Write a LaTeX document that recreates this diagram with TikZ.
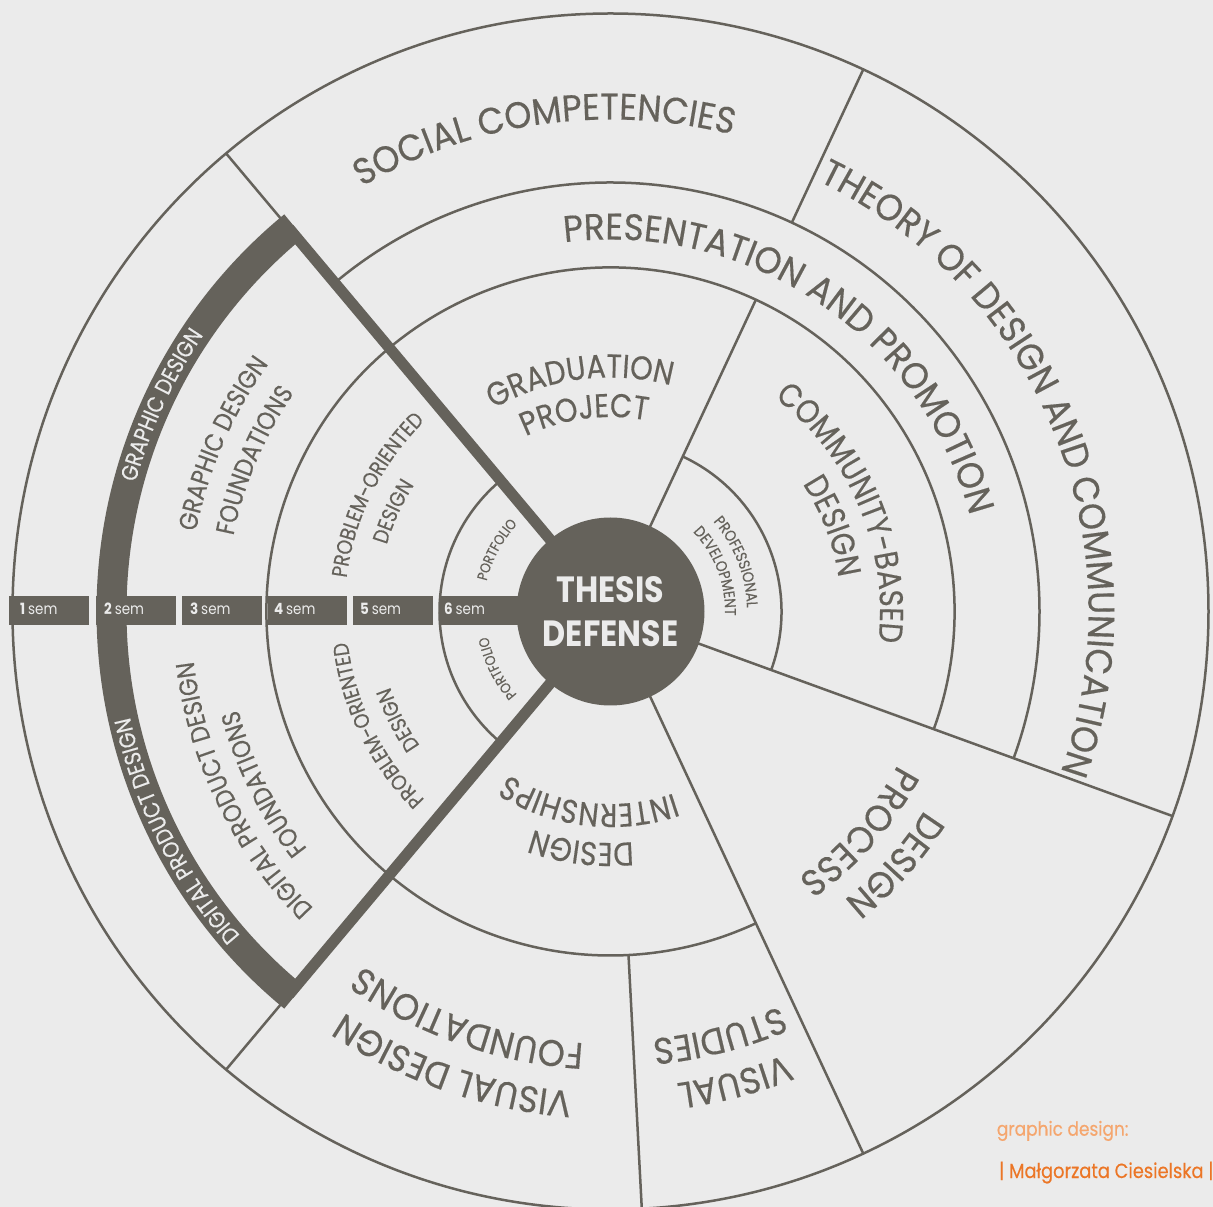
\documentclass[tikz,border=0pt]{standalone}
\usepackage{fontspec}
\usetikzlibrary{decorations.text}
\newfontfamily\labfont[FakeStretch=0.87,FakeBold=0.4]{Poppins}
\newfontfamily\bigfont[FakeStretch=0.93,FakeBold=0.4]{Poppins}
\newfontfamily\semfont[FakeStretch=0.87]{Poppins}
\definecolor{bg}{RGB}{235,235,235}
\definecolor{ink}{RGB}{101,98,91}
\definecolor{orl}{RGB}{245,166,110}
\definecolor{ord}{RGB}{235,118,38}
\newcommand\fBig{\bigfont\fontsize{37}{40}\selectfont}
\newcommand\fMed{\labfont\fontsize{33}{36}\selectfont}
\newcommand\fGD{\labfont\fontsize{26}{30}\selectfont}
\newcommand\fPO{\labfont\fontsize{21.5}{24}\selectfont}
\newcommand\fBand{\labfont\fontsize{23}{26}\selectfont}
\newcommand\fPD{\labfont\fontsize{15.5}{18}\selectfont}
\newcommand\fPF{\labfont\fontsize{14.3}{16}\selectfont}
\newcommand\arctext[5][ink]{%
  \pgfmathsetmacro\aS{#2+85}\pgfmathsetmacro\aE{#2-85}%
  \path[decorate,decoration={text along path,text align=center,text color=#1,text={|#4|#5}}]
    (\aS:#3pt) arc[start angle=\aS,end angle=\aE,radius=#3pt];}
\tikzset{
  ring/.style={draw=ink,line width=2.5pt},
  heavy/.style={draw=ink,line width=11pt},
  sembar/.style={fill=ink,inner sep=0pt,minimum height=28.5pt,anchor=west},
  semlab/.style={text=bg,inner sep=0pt,anchor=base west,font=\semfont\fontsize{15.5}{16}\selectfont},
}
\begin{document}
\begin{tikzpicture}[x=1pt,y=1pt]
\useasboundingbox[fill=bg] (-610.5,-595.5) rectangle (602.5,611.5);
% rings
\draw[ring] (0,0) circle[radius=598pt];
\draw[ring] (130:429pt) arc[start angle=130,end angle=-20,radius=429pt];
\draw[ring] (-20:344pt) arc[start angle=-20,end angle=295,radius=344pt];
\draw[ring] (130:171pt) arc[start angle=130,end angle=230,radius=171pt];
\draw[ring] (65:171pt) arc[start angle=65,end angle=-20,radius=171pt];
% radial lines
\draw[ring] (130:500pt) -- (130:598pt);
\draw[ring] (230:500pt) -- (230:598pt);
\draw[ring] (65:90pt) -- (65:344pt);
\draw[ring] (65:429pt) -- (65:598pt);
\draw[ring] (-20:90pt) -- (-20:598pt);
\draw[ring] (-65:90pt) -- (-65:598pt);
\draw[ring] (-87:344pt) -- (-87:598pt);
\draw[heavy] (130:90pt) -- (130:500pt);
\draw[heavy] (230:90pt) -- (230:500pt);
\fill[ink] (129.4:514pt) arc[start angle=129.4,end angle=230.6,radius=514pt]
  -- (230.6:484pt) arc[start angle=230.6,end angle=129.4,radius=484pt] -- cycle;
% semester bars
\node[sembar,minimum width=80pt] (b1) at (-601.5,0.75) {};
\node[sembar,minimum width=80pt] (b2) at (-514.5,0.75) {};
\node[sembar,minimum width=80pt] (b3) at (-428.5,0.75) {};
\node[sembar,minimum width=79pt] (b4) at (-342.5,0.75) {};
\node[sembar,minimum width=80pt] (b5) at (-257.5,0.75) {};
\node[sembar,minimum width=169.5pt] (b6) at (-169.5,0.75) {};
\node[semlab] (l1) at (-590.5,-3.5) {\bfseries 1 \mdseries sem};
\node[semlab] (l2) at (-506.5,-3.5) {\bfseries 2 \mdseries sem};
\node[semlab] (l3) at (-420.5,-3.5) {\bfseries 3 \mdseries sem};
\node[semlab] (l4) at (-336.5,-3.5) {\bfseries 4 \mdseries sem};
\node[semlab] (l5) at (-250.5,-3.5) {\bfseries 5 \mdseries sem};
\node[semlab] (l6) at (-166.5,-3.5) {\bfseries 6 \mdseries sem};
% centre
\node[circle,fill=ink,inner sep=0pt,minimum size=188pt,text=bg,align=center,
  font=\semfont\bfseries\fontsize{36.5}{44}\selectfont] (thesis) at (0,0) {THESIS\\DEFENSE};
% curved labels
\arctext{98}{492}{\fBig}{SOCIAL COMPETENCIES}
\arctext{56}{372}{\fBig}{PRESENTATION AND PROMOTION}
\arctext{22.3}{478}{\fBig}{THEORY OF DESIGN AND COMMUNICATION}
\arctext{97.5}{234}{\fMed}{GRADUATION}
\arctext{97.5}{194.5}{\fMed}{PROJECT}
\arctext{23}{269.5}{\fMed}{COMMUNITY-BASED}
\arctext{21}{230.5}{\fMed}{DESIGN}
\arctext{21.4}{136.5}{\fPD}{PROFESSIONAL}
\arctext{21}{114.5}{\fPD}{DEVELOPMENT}
\arctext{151.5}{127.5}{\fPF}{PORTFOLIO}
\arctext{206.6}{125}{\fPF}{PORTFOLIO}
\arctext{153.5}{266}{\fPO}{PROBLEM-ORIENTED}
\arctext{155.3}{233.5}{\fPO}{DESIGN}
\arctext{206}{264.5}{\fPO}{PROBLEM-ORIENTED}
\arctext{207}{233}{\fPO}{DESIGN}
\arctext{156.6}{422}{\fGD}{GRAPHIC DESIGN}
\arctext{157}{384.5}{\fGD}{FOUNDATIONS}
\arctext{205.9}{419.7}{\fGD}{DIGITAL PRODUCT DESIGN}
\arctext{206.4}{385}{\fGD}{FOUNDATIONS}
\arctext[bg]{155.3}{492}{\fBand}{GRAPHIC DESIGN}
\arctext[bg]{206.8}{492}{\fBand}{DIGITAL PRODUCT DESIGN}
\arctext{-41.7}{371.5}{\fBig}{DESIGN}
\arctext{-41.5}{325.5}{\fBig}{PROCESS}
\arctext{-75.2}{476.5}{\fBig}{VISUAL}
\arctext{-75.6}{429.5}{\fBig}{STUDIES}
\arctext{-109.1}{481.5}{\fBig}{VISUAL DESIGN}
\arctext{-109.3}{432.5}{\fBig}{FOUNDATIONS}
\arctext{-97}{231.5}{\fMed}{DESIGN}
\arctext{-96.5}{192.5}{\fMed}{INTERNSHIPS}
% credits
\node[anchor=base west,inner sep=0pt,text=orl,font=\labfont\fontsize{19.5}{20}\selectfont] (credit1) at (386.2,-524.2) {graphic design:};
\node[anchor=base west,inner sep=0pt,text=ord,font=\labfont\fontsize{20.5}{21}\selectfont] (credit2) at (388.5,-566.5) {| Małgorzata Ciesielska |};
\end{tikzpicture}
\end{document}
